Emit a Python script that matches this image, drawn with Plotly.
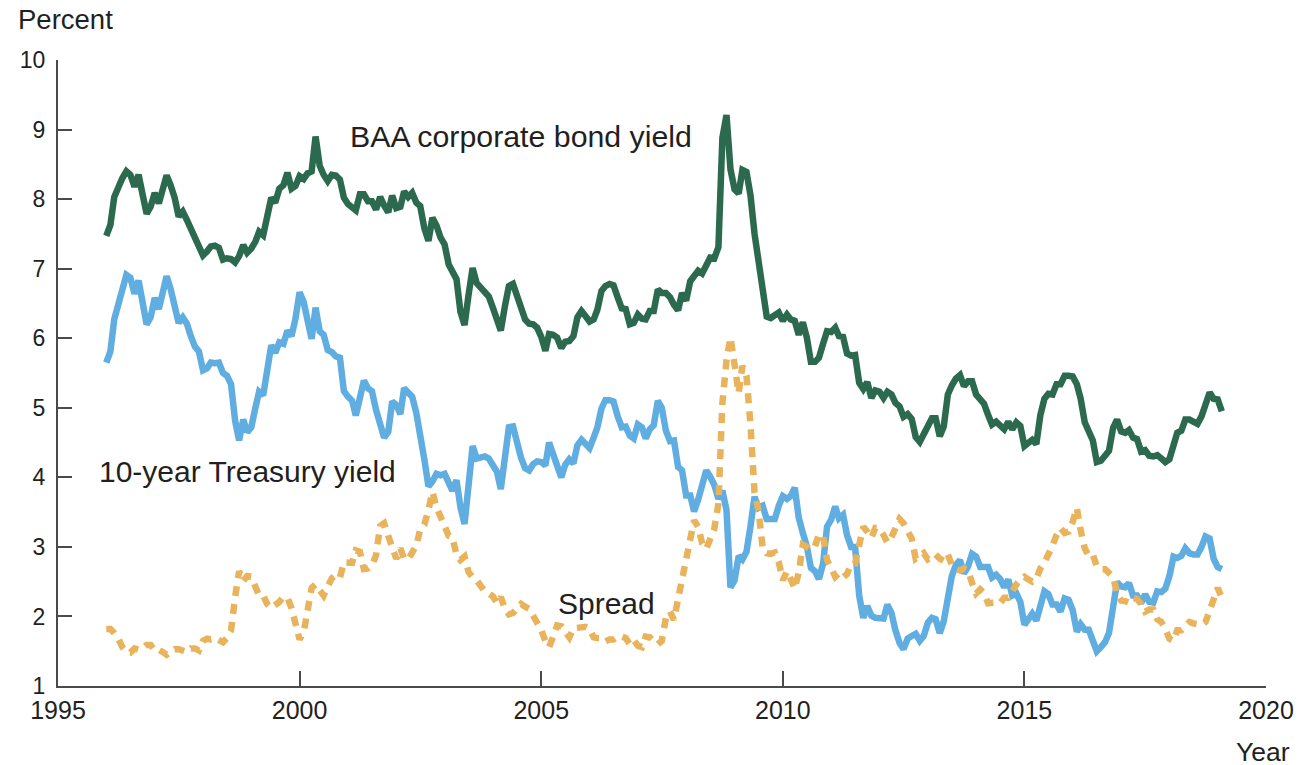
import pandas as pd
import plotly.graph_objects as go

# Monthly values, Jan 1996 - Feb 2019 (percent)
baa_yield = [
    7.47, 7.63, 8.03, 8.19, 8.30, 8.40, 8.35, 8.18, 8.35, 8.07, 7.79, 7.89,  # 1996
    8.09, 7.94, 8.18, 8.34, 8.20, 8.02, 7.75, 7.82, 7.70, 7.57, 7.42, 7.32,  # 1997
    7.19, 7.25, 7.32, 7.33, 7.30, 7.13, 7.15, 7.14, 7.09, 7.18, 7.34, 7.23,  # 1998
    7.29, 7.39, 7.53, 7.48, 7.72, 8.02, 7.95, 8.15, 8.20, 8.38, 8.15, 8.19,  # 1999
    8.33, 8.29, 8.37, 8.40, 8.90, 8.48, 8.35, 8.26, 8.35, 8.34, 8.28, 8.02,  # 2000
    7.93, 7.87, 7.84, 8.07, 8.07, 7.97, 7.97, 7.85, 8.03, 7.91, 7.81, 8.05,  # 2001
    7.87, 7.89, 8.11, 8.03, 8.09, 7.95, 7.90, 7.58, 7.40, 7.73, 7.62, 7.45,  # 2002
    7.35, 7.06, 6.95, 6.85, 6.38, 6.19, 6.62, 7.01, 6.79, 6.73, 6.66, 6.60,  # 2003
    6.44, 6.27, 6.11, 6.46, 6.75, 6.78, 6.62, 6.46, 6.27, 6.21, 6.20, 6.15,  # 2004
    6.02, 5.82, 6.06, 6.05, 6.01, 5.86, 5.95, 5.96, 6.03, 6.30, 6.39, 6.32,  # 2005
    6.24, 6.27, 6.41, 6.68, 6.75, 6.78, 6.76, 6.59, 6.43, 6.42, 6.20, 6.22,  # 2006
    6.34, 6.28, 6.27, 6.39, 6.39, 6.70, 6.65, 6.65, 6.59, 6.48, 6.40, 6.65,  # 2007
    6.54, 6.82, 6.89, 6.97, 6.93, 7.07, 7.16, 7.15, 7.31, 8.88, 9.21, 8.43,  # 2008
    8.14, 8.08, 8.42, 8.39, 8.06, 7.50, 7.09, 6.58, 6.31, 6.29, 6.32, 6.37,  # 2009
    6.25, 6.34, 6.27, 6.25, 6.05, 6.23, 6.01, 5.66, 5.66, 5.72, 5.92, 6.10,  # 2010
    6.09, 6.15, 6.03, 6.02, 5.78, 5.75, 5.76, 5.36, 5.27, 5.37, 5.14, 5.25,  # 2011
    5.23, 5.14, 5.23, 5.19, 5.07, 5.02, 4.87, 4.91, 4.84, 4.58, 4.51, 4.63,  # 2012
    4.73, 4.85, 4.85, 4.59, 4.73, 5.19, 5.32, 5.42, 5.47, 5.31, 5.38, 5.38,  # 2013
    5.19, 5.10, 5.06, 4.90, 4.76, 4.80, 4.73, 4.69, 4.80, 4.69, 4.79, 4.74,  # 2014
    4.45, 4.51, 4.54, 4.48, 4.89, 5.13, 5.20, 5.19, 5.34, 5.34, 5.46, 5.46,  # 2015
    5.45, 5.34, 5.13, 4.79, 4.68, 4.53, 4.22, 4.24, 4.31, 4.38, 4.71, 4.83,  # 2016
    4.66, 4.64, 4.68, 4.57, 4.55, 4.37, 4.39, 4.31, 4.30, 4.32, 4.27, 4.22,  # 2017
    4.26, 4.51, 4.64, 4.67, 4.83, 4.83, 4.79, 4.77, 4.88, 5.07, 5.22, 5.13,  # 2018
    5.12, 4.95,                                                              # 2019
]

treasury_10y = [
    5.65, 5.81, 6.27, 6.51, 6.74, 6.91, 6.87, 6.64, 6.83, 6.53, 6.20, 6.30,  # 1996
    6.58, 6.42, 6.69, 6.89, 6.71, 6.49, 6.22, 6.30, 6.21, 6.03, 5.88, 5.81,  # 1997
    5.54, 5.57, 5.65, 5.64, 5.65, 5.50, 5.46, 5.34, 4.81, 4.53, 4.83, 4.65,  # 1998
    4.72, 5.00, 5.23, 5.18, 5.54, 5.90, 5.79, 5.94, 5.92, 6.11, 6.03, 6.28,  # 1999
    6.66, 6.52, 6.26, 5.99, 6.44, 6.10, 6.05, 5.83, 5.80, 5.74, 5.72, 5.24,  # 2000
    5.16, 5.10, 4.89, 5.14, 5.39, 5.28, 5.24, 4.97, 4.73, 4.57, 4.65, 5.09,  # 2001
    5.04, 4.91, 5.28, 5.21, 5.16, 4.93, 4.65, 4.26, 3.87, 3.94, 4.05, 4.03,  # 2002
    4.05, 3.90, 3.81, 3.96, 3.57, 3.33, 3.98, 4.45, 4.27, 4.29, 4.30, 4.27,  # 2003
    4.15, 4.08, 3.83, 4.35, 4.72, 4.73, 4.50, 4.28, 4.13, 4.10, 4.19, 4.23,  # 2004
    4.22, 4.17, 4.50, 4.34, 4.14, 4.00, 4.18, 4.26, 4.20, 4.46, 4.54, 4.47,  # 2005
    4.42, 4.57, 4.72, 4.99, 5.11, 5.11, 5.09, 4.88, 4.72, 4.73, 4.60, 4.56,  # 2006
    4.76, 4.72, 4.56, 4.69, 4.75, 5.10, 5.00, 4.67, 4.52, 4.53, 4.15, 4.10,  # 2007
    3.74, 3.74, 3.51, 3.68, 3.88, 4.10, 4.01, 3.89, 3.69, 3.81, 3.53, 2.42,  # 2008
    2.52, 2.87, 2.82, 2.93, 3.29, 3.72, 3.56, 3.59, 3.40, 3.39, 3.40, 3.59,  # 2009
    3.73, 3.69, 3.73, 3.85, 3.42, 3.20, 3.01, 2.70, 2.65, 2.54, 2.76, 3.29,  # 2010
    3.39, 3.58, 3.41, 3.46, 3.17, 3.00, 3.00, 2.30, 1.98, 2.15, 2.01, 1.98,  # 2011
    1.97, 1.97, 2.17, 2.05, 1.80, 1.62, 1.53, 1.68, 1.72, 1.75, 1.65, 1.72,  # 2012
    1.91, 1.98, 1.96, 1.76, 1.93, 2.30, 2.58, 2.74, 2.81, 2.62, 2.72, 2.90,  # 2013
    2.86, 2.71, 2.72, 2.71, 2.56, 2.60, 2.54, 2.42, 2.53, 2.30, 2.33, 2.21,  # 2014
    1.88, 1.98, 2.04, 1.94, 2.20, 2.36, 2.32, 2.17, 2.17, 2.07, 2.26, 2.24,  # 2015
    2.09, 1.78, 1.89, 1.81, 1.81, 1.64, 1.50, 1.56, 1.63, 1.76, 2.14, 2.49,  # 2016
    2.43, 2.42, 2.48, 2.30, 2.30, 2.19, 2.32, 2.21, 2.20, 2.36, 2.35, 2.40,  # 2017
    2.58, 2.86, 2.84, 2.87, 2.98, 2.91, 2.89, 2.89, 3.00, 3.15, 3.12, 2.83,  # 2018
    2.71, 2.68,                                                              # 2019
]

spread = [
    1.82, 1.82, 1.76, 1.68, 1.56, 1.49, 1.48, 1.54, 1.52, 1.54, 1.59, 1.59,  # 1996
    1.51, 1.52, 1.49, 1.45, 1.49, 1.53, 1.53, 1.52, 1.49, 1.54, 1.54, 1.51,  # 1997
    1.65, 1.68, 1.67, 1.69, 1.65, 1.63, 1.69, 1.80, 2.28, 2.65, 2.51, 2.58,  # 1998
    2.57, 2.39, 2.30, 2.30, 2.18, 2.12, 2.16, 2.21, 2.28, 2.27, 2.12, 1.91,  # 1999
    1.67, 1.77, 2.11, 2.41, 2.46, 2.38, 2.30, 2.43, 2.55, 2.60, 2.56, 2.78,  # 2000
    2.77, 2.77, 2.95, 2.93, 2.68, 2.69, 2.73, 2.88, 3.30, 3.34, 3.16, 2.96,  # 2001
    2.83, 2.98, 2.83, 2.82, 2.93, 3.02, 3.25, 3.32, 3.53, 3.79, 3.57, 3.42,  # 2002
    3.30, 3.16, 3.14, 2.89, 2.81, 2.86, 2.64, 2.56, 2.52, 2.44, 2.36, 2.33,  # 2003
    2.29, 2.19, 2.28, 2.11, 2.03, 2.05, 2.12, 2.18, 2.14, 2.11, 2.01, 1.92,  # 2004
    1.80, 1.65, 1.56, 1.71, 1.87, 1.86, 1.77, 1.70, 1.83, 1.84, 1.85, 1.85,  # 2005
    1.82, 1.70, 1.69, 1.69, 1.64, 1.67, 1.67, 1.71, 1.71, 1.69, 1.60, 1.66,  # 2006
    1.58, 1.56, 1.71, 1.70, 1.64, 1.60, 1.65, 1.98, 2.07, 1.95, 2.25, 2.55,  # 2007
    2.80, 3.08, 3.38, 3.29, 3.05, 2.97, 3.15, 3.26, 3.62, 5.07, 5.68, 6.01,  # 2008
    5.62, 5.21, 5.60, 5.46, 4.77, 3.78, 3.53, 2.99, 2.91, 2.90, 2.92, 2.78,  # 2009
    2.52, 2.65, 2.54, 2.40, 2.63, 3.03, 3.00, 2.96, 3.01, 3.18, 3.16, 2.81,  # 2010
    2.70, 2.57, 2.62, 2.56, 2.61, 2.75, 2.76, 3.06, 3.29, 3.22, 3.13, 3.27,  # 2011
    3.26, 3.17, 3.06, 3.14, 3.27, 3.40, 3.34, 3.23, 3.12, 2.83, 2.86, 2.91,  # 2012
    2.82, 2.87, 2.89, 2.83, 2.80, 2.89, 2.74, 2.68, 2.66, 2.69, 2.66, 2.48,  # 2013
    2.33, 2.39, 2.34, 2.19, 2.20, 2.20, 2.19, 2.27, 2.27, 2.39, 2.46, 2.53,  # 2014
    2.57, 2.53, 2.50, 2.54, 2.69, 2.77, 2.88, 3.02, 3.17, 3.27, 3.20, 3.22,  # 2015
    3.36, 3.56, 3.24, 2.98, 2.87, 2.89, 2.72, 2.68, 2.68, 2.62, 2.57, 2.34,  # 2016
    2.23, 2.22, 2.20, 2.27, 2.25, 2.18, 2.07, 2.10, 2.10, 1.96, 1.92, 1.82,  # 2017
    1.68, 1.65, 1.80, 1.80, 1.85, 1.92, 1.90, 1.88, 1.88, 1.92, 2.10, 2.30,  # 2018
    2.41, 2.27,                                                              # 2019
]

months = pd.date_range("1996-01-01", periods=len(baa_yield), freq="MS")

x_tick_years = [1995, 2000, 2005, 2010, 2015, 2020]
y_ticks = [1, 2, 3, 4, 5, 6, 7, 8, 9, 10]

GREEN = "#2b6a4e"
BLUE = "#5fade1"
ORANGE = "#e9b35c"
TEXT = "#231f20"
AXIS = "#4a4a4a"
FONT = "Liberation Sans, Arial, Helvetica, sans-serif"

# page body has an 8px margin: figure is sized so it ends at the window edge
W, H = 1306, 757
ML, MR, MT, MB = 48, 48, 52, 79
PW, PH = W - ML - MR, H - MT - MB

fig = go.Figure()
fig.add_trace(go.Scatter(x=months, y=treasury_10y, mode="lines",
                         line=dict(color=BLUE, width=6.5), name="10-year Treasury yield"))
fig.add_trace(go.Scatter(x=months, y=baa_yield, mode="lines",
                         line=dict(color=GREEN, width=6.5), name="BAA corporate bond yield"))
fig.add_trace(go.Scatter(x=months, y=spread, mode="lines",
                         line=dict(color=ORANGE, width=6.5, dash="10px,8px"), name="Spread"))

fig.update_layout(
    width=W, height=H,
    margin=dict(l=ML, r=MR, t=MT, b=MB),
    paper_bgcolor="white", plot_bgcolor="white",
    showlegend=False,
    font=dict(family=FONT, color=TEXT),
    xaxis=dict(
        type="date",
        range=["1995-01-01", "2020-01-01"],
        tickvals=[f"{y}-01-01" for y in x_tick_years],
        ticktext=[str(y) for y in x_tick_years],
        ticks="inside", ticklen=15, tickwidth=2, tickcolor=AXIS,
        showline=True, linecolor=AXIS, linewidth=2,
        showgrid=False, zeroline=False,
        tickfont=dict(family=FONT, size=25, color=TEXT),
        ticklabelstandoff=1,
    ),
    yaxis=dict(
        range=[1, 10],
        tickvals=y_ticks,
        ticks="inside", ticklen=14, tickwidth=2, tickcolor=AXIS,
        showline=True, linecolor=AXIS, linewidth=2,
        showgrid=False, zeroline=False,
        tickfont=dict(family=FONT, size=23, color=TEXT),
        ticklabelstandoff=6,
    ),
)

ann_font = dict(family=FONT, size=30, color=TEXT)
fig.add_annotation(text="Percent", xref="paper", yref="paper", x=(6 - ML) / PW, y=1 + 41 / PH,
                   xanchor="left", yanchor="middle", showarrow=False,
                   font=dict(family=FONT, size=27.5, color=TEXT))
fig.add_annotation(text="Year", xref="paper", yref="paper", x=1 + 26 / PW, y=-66 / PH,
                   xanchor="right", yanchor="middle", showarrow=False,
                   font=dict(family=FONT, size=26.5, color=TEXT))
fig.add_annotation(text="BAA corporate bond yield", x="2001-01-01", y=8.9,
                   xanchor="left", yanchor="middle", showarrow=False,
                   font=dict(family=FONT, size=30.3, color=TEXT))
fig.add_annotation(text="10-year Treasury yield", x="1995-11-20", y=4.08, xshift=-4,
                   xanchor="left", yanchor="middle", showarrow=False, font=ann_font)
fig.add_annotation(text="Spread", x="2005-05-20", y=2.18, xshift=-4,
                   xanchor="left", yanchor="middle", showarrow=False, font=ann_font)

fig.write_html("out.html")
